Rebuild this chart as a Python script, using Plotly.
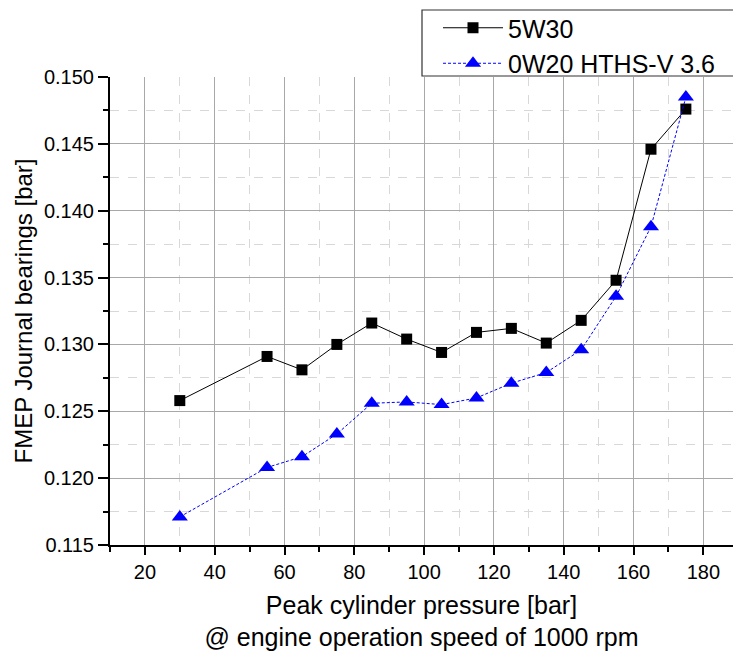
import plotly.graph_objects as go

pressure = [30, 55, 65, 75, 85, 95, 105, 115, 125, 135, 145, 155, 165, 175]
fmep_5w30 = [0.1258, 0.1291, 0.1281, 0.1300, 0.1316, 0.1304, 0.1294, 0.1309, 0.1312, 0.1301, 0.1318, 0.1348, 0.1446, 0.1476]
fmep_0w20 = [0.1171, 0.1208, 0.1216, 0.1233, 0.1256, 0.1257, 0.1255, 0.1260, 0.1271, 0.1279, 0.1296, 0.1336, 0.1388, 0.1485]
series_names = ["5W30", "0W20 HTHS-V 3.6"]
x_ticks = [20, 40, 60, 80, 100, 120, 140, 160, 180]
y_ticks = [0.115, 0.120, 0.125, 0.130, 0.135, 0.140, 0.145, 0.150]

FONT = "Liberation Sans, Arial, sans-serif"
PLOT_W, PLOT_H = 623, 468

fig = go.Figure()
fig.add_trace(go.Scatter(
    x=pressure, y=fmep_5w30, name=series_names[0], mode="lines+markers",
    line=dict(color="black", width=1),
    marker=dict(symbol="square", size=11, color="black"),
))
fig.add_trace(go.Scatter(
    x=pressure, y=fmep_0w20, name=series_names[1], mode="lines+markers",
    line=dict(color="blue", width=1, dash="3px,2px"),
    marker=dict(symbol="triangle-up", size=14, color="blue"),
))

# legend frame
fig.add_shape(type="rect", xref="paper", yref="paper",
              x0=(422 - 110) / PLOT_W, x1=1.05, y0=1 + 1 / PLOT_H, y1=1 + 67 / PLOT_H,
              line=dict(color="#333333", width=1.2), fillcolor="white", layer="below")

fig.update_layout(
    width=733, height=651,
    margin=dict(l=110, r=0, t=77, b=106, autoexpand=False),
    paper_bgcolor="white", plot_bgcolor="white",
    font=dict(family=FONT, size=20, color="black"),
    legend=dict(
        x=(438 - 110) / PLOT_W, y=1 + 72 / PLOT_H, xanchor="left", yanchor="top",
        bgcolor="rgba(0,0,0,0)", borderwidth=0,
        font=dict(family=FONT, size=25, color="black"),
        itemwidth=60, tracegroupgap=0,
    ),
    xaxis=dict(
        range=[10, 188.5], tickmode="array", tickvals=x_ticks,
        ticks="outside", ticklen=8, tickwidth=2, tickcolor="black",
        showline=True, linewidth=2, linecolor="black", mirror=False,
        showgrid=True, gridcolor="#a8a8a8", gridwidth=1,
        zeroline=False,
        minor=dict(dtick=10, tick0=0, ticks="outside", ticklen=5, tickwidth=2, tickcolor="black",
                   showgrid=True, gridcolor="#d8d8d8", griddash="dash", gridwidth=1),
        title=dict(text="Peak cylinder pressure [bar]<br>@ engine operation speed of 1000 rpm",
                   font=dict(family=FONT, size=25), standoff=20),
        tickfont=dict(family=FONT, size=20),
    ),
    yaxis=dict(
        range=[0.115, 0.150], tickmode="array", tickvals=y_ticks, tickformat=".3f",
        ticks="outside", ticklen=10, tickwidth=2, tickcolor="black",
        showline=True, linewidth=2, linecolor="black", mirror=False,
        showgrid=True, gridcolor="#a8a8a8", gridwidth=1,
        zeroline=False,
        minor=dict(dtick=0.0025, tick0=0.115, ticks="outside", ticklen=5, tickwidth=2, tickcolor="black",
                   showgrid=True, gridcolor="#d8d8d8", griddash="dash", gridwidth=1),
        title=dict(text="FMEP Journal bearings [bar]", font=dict(family=FONT, size=24), standoff=5),
        tickfont=dict(family=FONT, size=20),
    ),
)

fig.write_html("out.html")
